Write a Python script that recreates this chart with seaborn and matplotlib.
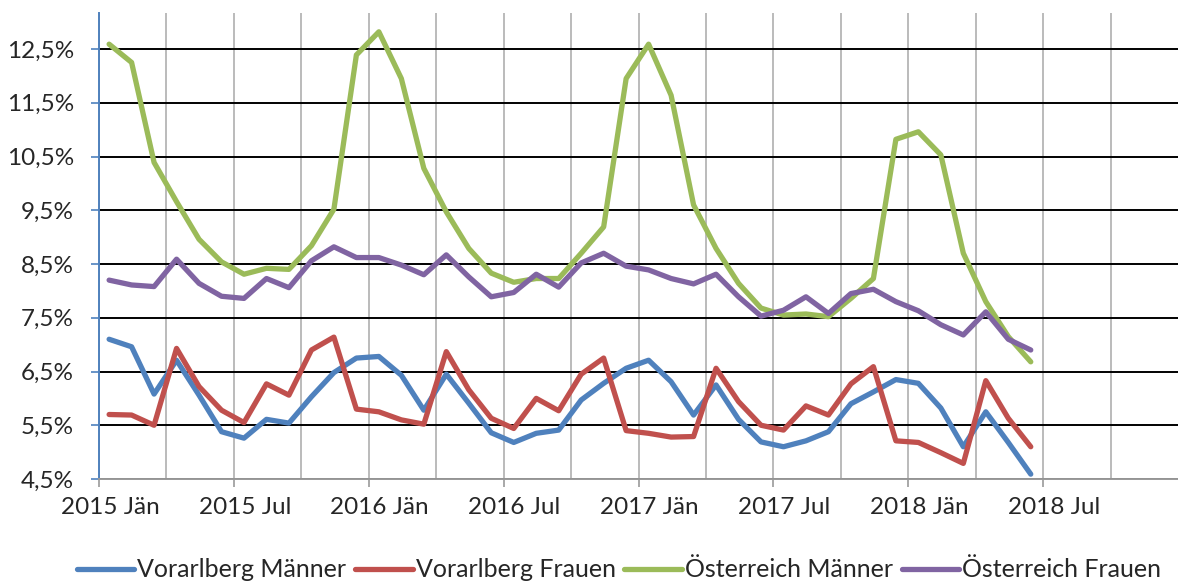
import matplotlib.pyplot as plt
import pandas as pd
import numpy as np
import seaborn as sns
from matplotlib.ticker import FuncFormatter
from matplotlib.transforms import ScaledTranslation

# monthly values Jan 2015 - Jun 2018 (points sit mid-month on a month axis, 0 = 2015 Jän)
months = np.arange(42) + 0.45

vbg_maenner = [7.10, 6.96, 6.08, 6.71, 6.06, 5.38, 5.26, 5.61, 5.54, 6.03, 6.48, 6.75,
               6.78, 6.43, 5.78, 6.45, 5.91, 5.36, 5.18, 5.35, 5.41, 5.97, 6.28, 6.56,
               6.71, 6.31, 5.69, 6.25, 5.61, 5.19, 5.10, 5.21, 5.38, 5.90, 6.12, 6.35,
               6.28, 5.82, 5.10, 5.75, 5.18, 4.59]
vbg_frauen = [5.70, 5.69, 5.50, 6.93, 6.22, 5.78, 5.55, 6.27, 6.06, 6.90, 7.14, 5.80,
              5.75, 5.60, 5.52, 6.87, 6.16, 5.63, 5.44, 6.00, 5.77, 6.45, 6.75, 5.40,
              5.35, 5.28, 5.29, 6.56, 5.94, 5.50, 5.41, 5.86, 5.69, 6.27, 6.59, 5.21,
              5.18, 4.99, 4.79, 6.33, 5.63, 5.10]
oe_maenner = [12.59, 12.25, 10.39, 9.66, 8.96, 8.54, 8.31, 8.42, 8.40, 8.84, 9.52, 12.39,
              12.82, 11.95, 10.28, 9.47, 8.79, 8.33, 8.16, 8.23, 8.23, 8.70, 9.19, 11.95,
              12.59, 11.64, 9.60, 8.79, 8.14, 7.68, 7.55, 7.57, 7.52, 7.86, 8.23, 10.82,
              10.96, 10.53, 8.70, 7.80, 7.15, 6.68]
oe_frauen = [8.20, 8.11, 8.08, 8.59, 8.14, 7.90, 7.86, 8.23, 8.06, 8.56, 8.82, 8.62,
             8.62, 8.48, 8.30, 8.67, 8.26, 7.89, 7.97, 8.31, 8.07, 8.52, 8.70, 8.46,
             8.39, 8.23, 8.13, 8.31, 7.89, 7.53, 7.64, 7.89, 7.58, 7.95, 8.03, 7.80,
             7.63, 7.37, 7.18, 7.61, 7.10, 6.90]

reihen = ['Vorarlberg Männer', 'Vorarlberg Frauen', 'Österreich Männer', 'Österreich Frauen']
farben = ['#4F81BD', '#C0504D', '#9BBB59', '#8064A2']

tick_pos = [0, 6, 12, 18, 24, 30, 36, 42]
tick_labels = ['2015 Jän', '2015 Jul', '2016 Jän', '2016 Jul',
               '2017 Jän', '2017 Jul', '2018 Jän', '2018 Jul']
y_ticks = [4.5, 5.5, 6.5, 7.5, 8.5, 9.5, 10.5, 11.5, 12.5]

df = pd.DataFrame({'Monat': months,
                   reihen[0]: vbg_maenner, reihen[1]: vbg_frauen,
                   reihen[2]: oe_maenner, reihen[3]: oe_frauen})
df = df.melt(id_vars='Monat', var_name='Reihe', value_name='Quote')

sns.set_style('white')
plt.rcParams['font.family'] = ['Lato', 'DejaVu Sans']

fig = plt.figure(figsize=(11.78, 5.83), dpi=100)
ax = fig.add_axes([99 / 1178, 1 - 479 / 583, 1 - 99 / 1178, 466 / 583])

sns.lineplot(data=df, x='Monat', y='Quote', hue='Reihe', hue_order=reihen,
             palette=farben, linewidth=3.8, ax=ax)

ax.set_xlim(0, 48)
ax.set_ylim(4.5, 13.17)
ax.set_xlabel('')
ax.set_ylabel('')

ax.set_yticks(y_ticks)
ax.yaxis.set_major_formatter(FuncFormatter(lambda v, p: f'{v:.1f}%'.replace('.', ',')))
ax.set_xticks(tick_pos)
ax.set_xticklabels(tick_labels)
ax.set_xticks([3, 9, 15, 21, 27, 33, 39, 45], minor=True)

ax.set_axisbelow(True)
ax.grid(axis='y', color='black', linewidth=1.4)
ax.grid(axis='x', which='both', color='#BBBBBB', linewidth=1.4)

for s in ['top', 'right']:
    ax.spines[s].set_visible(False)
ax.spines['left'].set_color('#4F81BD')
ax.spines['left'].set_linewidth(1.4)
ax.spines['bottom'].set_color('#999999')
ax.spines['bottom'].set_linewidth(1.4)

ax.tick_params(axis='y', direction='out', length=6, width=1.2, color='#4F81BD',
               pad=12, labelsize=17.5, left=True)
ax.tick_params(axis='x', which='major', direction='out', length=6, width=1.2,
               color='#999999', pad=7, labelsize=17.5, bottom=True)
ax.tick_params(axis='x', which='minor', length=0)

shift = ScaledTranslation(11 / 100, 0, fig.dpi_scale_trans)
for lab in ax.get_xticklabels():
    lab.set_transform(lab.get_transform() + shift)

ax.legend(loc='center', bbox_to_anchor=(0.482, -0.195), ncol=4, frameon=False,
          fontsize=18, handlelength=2.3, handletextpad=0.12, columnspacing=0.35)

fig.savefig('out.png', dpi=100)
